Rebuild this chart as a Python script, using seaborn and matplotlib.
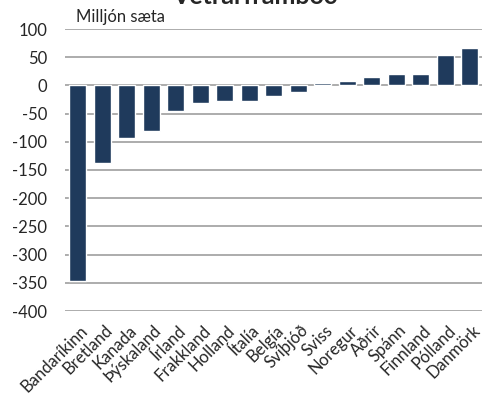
import matplotlib
matplotlib.use("Agg")
import matplotlib.pyplot as plt
import matplotlib.transforms as mtransforms
import seaborn as sns
import pandas as pd

categories = ["Bandaríkinn", "Bretland", "Kanada", "Þýskaland", "Írland", "Frakkland",
              "Holland", "Ítalía", "Belgía", "Svíþjóð", "Sviss", "Noregur", "Aðrir",
              "Spánn", "Finnland", "Pólland", "Danmörk"]
values = [-346, -138, -94, -81, -45, -31, -27, -27, -18, -11, 4, 8, 15, 21, 21, 54, 66]
yticks = [100, 50, 0, -50, -100, -150, -200, -250, -300, -350, -400]

df = pd.DataFrame({"land": categories, "gildi": values})

sns.set_theme(style="white")
plt.rcParams['font.family'] = ['Lato', 'DejaVu Sans']

fig = plt.figure(figsize=(4.85, 4.01), dpi=100)
ax = fig.add_axes([65.5/485, 1 - 311/401, (482 - 65.5)/485, (311 - 29)/401])

sns.barplot(data=df, x="land", y="gildi", color="#1F3A5C", width=0.68,
            saturation=1, ax=ax, zorder=3)

ax.set_ylim(-400, 100)
ax.set_yticks(yticks)
ax.set_yticklabels([str(t) for t in yticks], fontsize=12)
ax.yaxis.grid(True, color="#A6A6A6", linewidth=1.3, zorder=0)
ax.set_axisbelow(True)
ax.tick_params(axis="y", length=0, pad=13)
ax.tick_params(axis="x", length=0, pad=8)
for s in ax.spines.values():
    s.set_visible(False)
ax.set_xlabel("")
ax.set_ylabel("")
ax.set_xlim(-0.5, len(categories) - 0.5)
offset = mtransforms.ScaledTranslation(2/100, 0, fig.dpi_scale_trans)
for lbl in ax.get_xticklabels():
    lbl.set_rotation(45)
    lbl.set_ha("right")
    lbl.set_rotation_mode("anchor")
    lbl.set_fontsize(12)
    lbl.set_transform(lbl.get_transform() + offset)

fig.text(76/485, 1 - 17/401, "Milljón sæta", fontsize=12, va="center", ha="left")
fig.text(255/485, 1 - 4/401, "Vetrarframboð", fontsize=18, fontweight="bold",
         va="baseline", ha="center")

fig.savefig("out.png", dpi=100)
